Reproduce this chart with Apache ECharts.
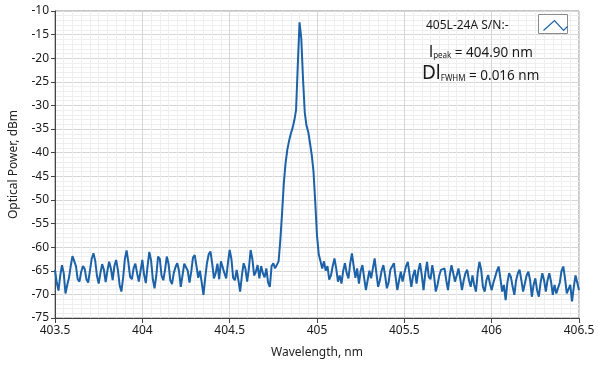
<!DOCTYPE html>
<html>
<head>
<meta charset="utf-8">
<title>405L-24A spectrum</title>
<script src="https://cdn.jsdelivr.net/npm/echarts@6/dist/echarts.min.js"></script>
<style>
  html, body { margin: 0; padding: 0; background: #fff; }
  #chart { width: 599px; height: 370px; }
</style>
</head>
<body>
<div id="chart"></div>
<script>
// spectrum, one sample every 0.01 nm starting at 403.50 nm
const wlStart = 403.5
const wlStep = 0.01

// 403.50 .. 404.78 nm
const noiseLeft = [
  -64.8, -67.5, -69.2, -66.0, -63.8, -65.5, -69.8, -68.0, -66.5, -64.0,
  -61.9, -61.7, -64.0, -66.8, -67.3, -65.2, -64.0, -64.6, -66.8, -67.5,
  -65.0, -62.5, -61.3, -62.8, -66.0, -67.7, -65.5, -63.6, -64.8, -67.4,
  -65.0, -63.1, -64.5, -67.0, -64.0, -62.7, -64.8, -68.0, -69.4, -66.5,
  -62.5, -60.7, -63.2, -66.3, -66.8, -64.5, -63.5, -65.5, -67.3, -65.0,
  -62.7, -65.8, -67.6, -64.0, -61.0, -62.8, -66.8, -68.7, -66.0, -62.0,
  -62.5, -66.0, -67.0, -64.8, -62.0, -63.5, -67.0, -67.8, -65.5, -64.2,
  -63.4, -65.0, -68.4, -66.0, -63.5, -63.1, -65.0, -67.5, -65.2, -62.2,
  -61.7, -64.0, -66.5, -65.0, -67.5, -70.1, -66.5, -63.4, -61.5, -60.9,
  -63.5, -66.6, -65.5, -63.5, -66.8, -63.0, -62.7, -65.5, -66.6, -63.4,
  -60.6, -62.5, -66.5, -67.0, -64.8, -67.0, -69.4, -66.0, -63.4, -64.5,
  -67.3, -64.5, -60.6, -62.5, -66.0, -65.2, -63.8, -66.6, -64.0, -65.5,
  -66.4, -64.5, -67.5, -68.4, -64.0, -63.4, -64.5, -64.1, -63.0
]

// 404.79 .. 405.02 nm
const peak = [
  -58.5, -52.8, -46.5, -42.2, -39.4, -37.5, -36.0, -34.8, -33.2, -31.0,
  -21.5, -12.4, -15.8, -24.4, -31.5, -34.3, -35.6, -38.0, -40.5, -44.0,
  -50.5, -57.5, -61.5, -63.0
]

// 405.03 .. 406.50 nm
const noiseRight = [
  -64.5, -63.0, -65.0, -64.0, -66.9, -66.0, -64.0, -62.4, -64.5, -67.3,
  -66.0, -67.7, -65.0, -63.4, -65.5, -66.6, -63.5, -61.3, -64.0, -66.5,
  -64.5, -67.7, -65.0, -63.8, -66.5, -69.1, -67.0, -65.0, -66.6, -64.5,
  -62.4, -65.5, -68.4, -67.0, -65.0, -63.8, -66.0, -68.7, -67.5, -64.8,
  -64.1, -63.4, -66.3, -69.1, -67.0, -65.2, -67.3, -65.5, -64.0, -63.1,
  -65.8, -68.4, -66.0, -64.8, -67.7, -65.0, -63.4, -66.0, -69.1, -65.5,
  -63.1, -66.3, -66.8, -63.8, -66.0, -69.4, -68.0, -66.0, -64.8, -65.2,
  -64.5, -67.0, -69.1, -66.0, -63.8, -65.5, -67.3, -66.0, -64.5, -66.6,
  -69.1, -67.0, -65.5, -64.8, -67.0, -68.4, -66.0, -68.0, -69.4, -65.5,
  -63.1, -64.8, -68.4, -69.4, -67.0, -65.9, -67.7, -69.1, -67.5, -66.3,
  -65.0, -64.1, -66.6, -69.4, -68.0, -71.2, -67.5, -65.5, -66.3, -68.4,
  -70.1, -67.0, -65.5, -64.8, -67.0, -69.4, -67.7, -66.0, -65.2, -67.0,
  -70.5, -68.0, -66.6, -69.1, -70.5, -67.5, -65.5, -67.0, -69.4, -67.0,
  -65.5, -67.3, -70.1, -68.0, -69.8, -69.4, -67.5, -65.0, -64.1, -66.6,
  -69.8, -70.1, -68.0, -71.5, -68.5, -66.0, -67.5, -69.1
]

const powerDbm = noiseLeft.concat(peak, noiseRight)

const xRange = [403.5, 406.5]
const yRange = [-75, -10]

const seriesName = '405L-24A S/N:-'
const peakLabel = ['l', 'peak', ' = 404.90 nm']
const fwhmLabel = ['Dl', 'FWHM', ' = 0.016 nm']

const FONT = 'Noto Sans'
const TEXT_COLOR = '#1a1a1a'
const LINE_COLOR = '#1b62a8'

const points = powerDbm.map((v, i) => [+(wlStart + i * wlStep).toFixed(2), v])

function richPart (size) {
  return { fontFamily: FONT, fontSize: size, fontWeight: 'normal', color: TEXT_COLOR, verticalAlign: 'bottom' }
}

const chart = echarts.init(document.getElementById('chart'), null, { renderer: 'canvas' })

const axisCommon = {
  type: 'value',
  nameLocation: 'middle',
  nameTextStyle: { fontFamily: FONT, fontSize: 12, color: '#222' },
  axisLine: { show: true, lineStyle: { color: '#444', width: 1 } },
  axisTick: { show: true, length: 4, lineStyle: { color: '#444' } },
  axisLabel: { fontFamily: FONT, fontSize: 12, color: TEXT_COLOR },
  splitLine: { show: true, lineStyle: { color: '#d6d6d6', width: 1 } },
  minorTick: { show: false },
  minorSplitLine: { show: true, lineStyle: { color: '#eeeeee', width: 1 } }
}

chart.setOption({
  animation: false,
  backgroundColor: '#fff',
  grid: {
    left: 53,
    right: 20,
    top: 11,
    bottom: 52,
    show: true,
    borderColor: '#8a8a8a',
    borderWidth: 1
  },
  title: [
    {
      text: seriesName,
      left: 421,
      top: 15,
      textStyle: { fontFamily: FONT, fontSize: 12, fontWeight: 'normal', color: TEXT_COLOR }
    },
    {
      text: `{a|${peakLabel[0]}}{b|${peakLabel[1]}}{c|${peakLabel[2]}}`,
      left: 424,
      top: 39,
      textStyle: {
        fontWeight: 'normal',
        rich: { a: richPart(16), b: richPart(8), c: richPart(13.5) }
      }
    },
    {
      text: `{a|${fwhmLabel[0]}}{b|${fwhmLabel[1]}}{c|${fwhmLabel[2]}}`,
      left: 417,
      top: 59,
      textStyle: {
        fontWeight: 'normal',
        rich: { a: richPart(19), b: richPart(8), c: richPart(13.5) }
      }
    }
  ],
  // small legend swatch, like the instrument's plot legend
  graphic: [
    {
      type: 'rect',
      left: 538,
      top: 14,
      z: 100,
      shape: { width: 29, height: 19 },
      style: { fill: '#fff', stroke: '#8a8a8a', lineWidth: 1 }
    },
    {
      type: 'polyline',
      left: 541,
      top: 18,
      z: 101,
      shape: { points: [[0, 10], [11, 0], [20, 10], [24, 6]] },
      style: { fill: null, stroke: LINE_COLOR, lineWidth: 1.2 }
    }
  ],
  xAxis: {
    ...axisCommon,
    name: 'Wavelength, nm',
    nameGap: 29,
    min: xRange[0],
    max: xRange[1],
    interval: 0.5,
    axisTick: { show: true, length: 5, lineStyle: { color: '#444' } },
    axisLabel: { ...axisCommon.axisLabel, margin: 7 },
    minorTick: { show: false, splitNumber: 10 }
  },
  yAxis: {
    ...axisCommon,
    name: 'Optical Power, dBm',
    nameGap: 35,
    min: yRange[0],
    max: yRange[1],
    interval: 5,
    axisLabel: { ...axisCommon.axisLabel, margin: 6 },
    minorTick: { show: false, splitNumber: 5 }
  },
  series: [
    {
      name: seriesName,
      type: 'line',
      data: points,
      showSymbol: false,
      symbol: 'none',
      lineStyle: { color: LINE_COLOR, width: 2 },
      z: 3
    }
  ]
})
</script>
</body>
</html>
